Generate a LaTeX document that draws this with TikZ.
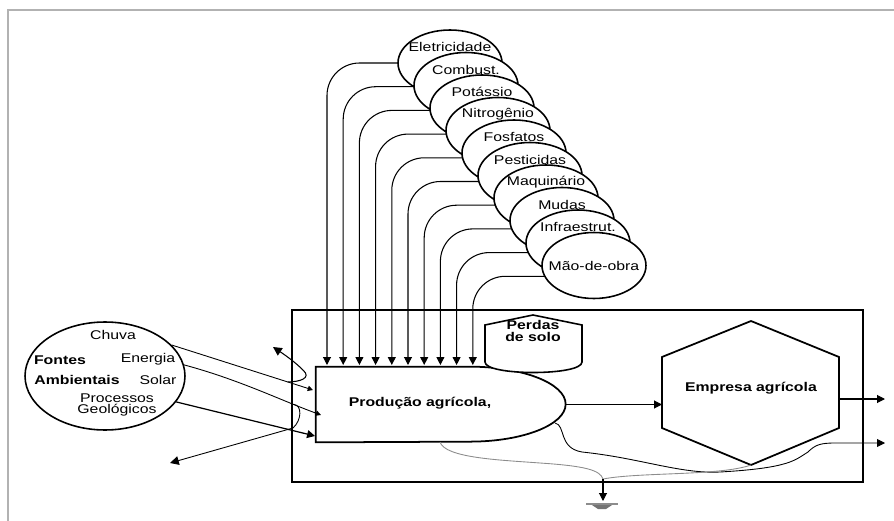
\documentclass[tikz,border=0pt]{standalone}
\usepackage{fontspec}
\setmainfont{Liberation Sans}[FakeStretch=1.25]
\usetikzlibrary{positioning}
\usetikzlibrary{calc}
\usetikzlibrary{arrows.meta}
\usetikzlibrary{shapes.geometric}
\pgfdeclarelayer{bg}
\pgfsetlayers{bg,main}

\begin{document}
\begin{tikzpicture}[x=0.02cm, y=-0.02cm, font=\fontsize{7.2}{8}\selectfont,
    src/.style={draw, ellipse, fill=white, line width=0.9pt, minimum width=2.08cm, minimum height=1.32cm, inner sep=0pt},
    arrow/.style={-{Triangle[length=4.5pt, width=4.5pt]}, line width=0.6pt},
    small/.style={-{Triangle[length=3pt, width=3pt]}, line width=0.5pt},
    loss/.style={line width=0.5pt, black!45},
    tight/.style={align=center, font=\fontsize{7.2}{6.3}\selectfont}]
    \useasboundingbox (0,0) rectangle (894,521);
    \draw[black!30, line width=1.1pt] (8,521) -- (8,10) -- (894,10);

    % sistema
    \draw[line width=1pt] (292,310) rectangle (863,482);

    % fontes externas
    \foreach \lab [count=\i from 0] in {Eletricidade, Combust., Potássio, Nitrogênio, Fosfatos, Pesticidas, Maquinário, Mudas, Infraestrut., Mão-de-obra} {
        \pgfmathsetmacro\dy{ifthenelse(\i==9,0,-16)}
        \node[src] (e\i) at (450+16*\i, 63+22.5*\i) {};
        \node (t\i) at ($(e\i)+(0,\dy)$) {\lab};
    }
    \begin{pgfonlayer}{bg}
        \foreach \i in {0,...,9} {
            \coordinate (f\i) at (327+16.2*\i, 365);
            \draw[arrow, rounded corners=0.65cm] ($(e\i.center)+(0,1.2*\i)$) -| (f\i);
        }
    \end{pgfonlayer}

    % producao
    \node[minimum width=5cm, minimum height=1.5cm, inner sep=0pt] (prod) at (441,404.5) {};
    \draw[line width=1pt, fill=white] (prod.north west) -- ++(154,0) arc[start angle=90, end angle=-90, x radius=1.92cm, y radius=0.75cm] -- (prod.south west) -- cycle;
    \node (prodlab) at (420,403) {\textbf{Produção agrícola,}};

    % perdas de solo
    \draw[line width=0.9pt, fill=white] (485,362) -- (485,325) -- (533,315) -- (582,325) -- (582,362) .. controls (582,376) and (485,376) .. (485,362);
    \node[tight] (perdas) at (533,331) {\textbf{Perdas}\\\textbf{de solo}};

    % empresa
    \draw[line width=1pt] (751,321) -- (839,357) -- (839,428) -- (751,465) -- (662,428) -- (662,357) -- cycle;
    \node (emp) at (751,388) {\textbf{Empresa agrícola}};
    \coordinate (empW) at (662,401);
    \coordinate (empE) at (839,399);
    \coordinate (empS) at (751,465);
    \coordinate (out1) at (885,399);
    \coordinate (out2) at (885,443);
    \draw[arrow] (prod.east) -- (prod.east -| empW);
    \draw[arrow] (empE) -- (out1);

    % saidas e sumidouro
    \coordinate (p2) at (555,423);
    \coordinate (p3) at (440,442);
    \coordinate (sink) at (603,479);
    \coordinate (gnd) at (603,501);
    \draw[arrow, line width=0.5pt] (p2) .. controls (566,425) and (558,448) .. (582,452) .. controls (640,458) and (680,474) .. (720,472) .. controls (790,468) and (795,460) .. (808,452) .. controls (815,445) and (820,443) .. (835,443) -- (out2);
    \draw[loss] (p3) .. controls (445,458) and (500,460) .. (540,463) .. controls (585,466) and (600,470) .. (sink);
    \draw[loss] (empS) .. controls (720,476) and (640,472) .. (sink);
    \draw[arrow] (sink) -- (gnd);
    \draw[black!45, line width=0.6pt] (586,504) -- (618,504);
    \fill[black!55] (592,505) -- (612,505) -- (606,509) -- (598,509) -- cycle;

    % fontes ambientais
    \node[src, minimum width=3.2cm, minimum height=2.16cm] (fontes) at (105,376) {};
    \node (chuva) at (113,335) {Chuva};
    \node (fontesL) at (60,360) {\textbf{Fontes}};
    \node (energia) at (148,359) {Energia};
    \node (ambient) at (77,380) {\textbf{Ambientais}};
    \node (solar) at (158,380) {Solar};
    \node[tight] (proc) at (117,405) {Processos\\Geológicos};

    \coordinate (in1) at (313,390);
    \coordinate (in2) at (321,415);
    \coordinate (in3) at (315,436);
    \coordinate (refl) at (273,347);
    \coordinate (calor) at (170,463);
    \draw[small] (fontes.25) -- coordinate[pos=0.82] (r1) (in1);
    \draw[small] (fontes.8) .. controls (240,380) and (280,400) .. coordinate[pos=0.78] (r2) (in2);
    \draw[arrow, line width=0.7pt] (fontes.-20) -- (in3);
    \draw[-{Triangle[length=5pt, width=5pt]}, line width=0.6pt] (r1) .. controls (300,382) and (312,378) .. (303,370) .. controls (295,362) and (285,355) .. (refl);
    \draw[-{Triangle[length=5pt, width=5pt]}, line width=0.5pt] (r2) .. controls (302,405) and (302,420) .. (293,428) -- (calor);
\end{tikzpicture}
\end{document}
